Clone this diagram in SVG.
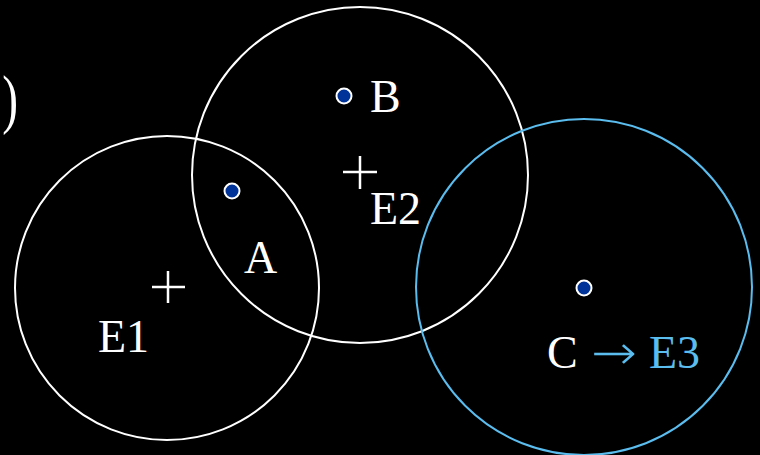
<svg xmlns="http://www.w3.org/2000/svg" width="760" height="455" viewBox="0 0 760 455">
<style>
.t{font-family:"Liberation Serif","Times New Roman",serif;font-size:46px;fill:#fff}
.b{fill:#5bbcee}
.ring{fill:none;stroke:#fff;stroke-width:2}
.ringb{fill:none;stroke:#5bbcee;stroke-width:2}
.cross{stroke:#fff;stroke-width:2.5}
.dot{fill:#003399;stroke:#fff;stroke-width:2}
</style>
<rect width="760" height="455" fill="#000"/>
<text class="t" x="-3" y="121" style="font-size:66px" transform="translate(16,0) scale(0.72,1) translate(-16,0)">)</text>
<g id="E1">
<circle class="ring" cx="167" cy="288" r="152"/>
<path class="cross" d="M152 287H185M168 271V303"/>
<text class="t" x="98" y="352">E1</text>
</g>
<g id="E2">
<circle class="ring" cx="360" cy="175" r="168"/>
<path class="cross" d="M343 172H377M360 156V189"/>
<text class="t" x="370" y="224">E2</text>
</g>
<g id="E3">
<circle class="ringb" cx="584" cy="287" r="168"/>
</g>
<g id="A">
<circle class="dot" cx="232" cy="191" r="7.5"/>
<text class="t" x="244" y="273">A</text>
</g>
<g id="B">
<circle class="dot" cx="344" cy="96" r="7.5"/>
<text class="t" x="370" y="112">B</text>
</g>
<g id="C">
<circle class="dot" cx="584" cy="288" r="7.5"/>
<text class="t" x="547" y="368">C</text>
<text class="t b" x="591" y="369" style="font-family:'DejaVu Sans',sans-serif;font-size:48px;font-weight:200" textLength="46" lengthAdjust="spacingAndGlyphs">→</text>
<text class="t b" x="649" y="368">E3</text>
</g>
<g id="connectors"></g>
</svg>
